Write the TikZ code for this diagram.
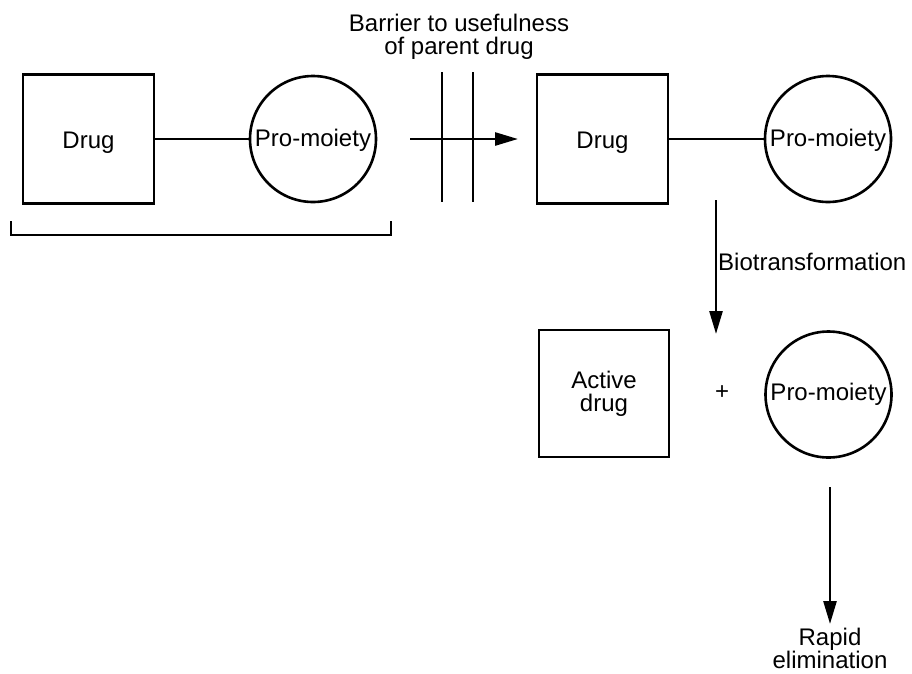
\documentclass[tikz,border=0pt]{standalone}
\usepackage{fontspec}
\setmainfont{Liberation Sans}
\usetikzlibrary{arrows.meta}
\tikzset{
  ln/.style={line width=2.6pt},
  arr/.style={line width=2.6pt, -{Triangle[length=23pt,width=13pt]}},
  sq/.style={draw, line width=2.6pt, rectangle, inner sep=0pt, align=center},
  ci/.style={draw, line width=2.6pt, circle, minimum size=126pt, inner sep=0pt},
  lbl/.style={inner sep=0pt, align=center},
  tb/.style={text height=#1, text depth=0pt},
}
\begin{document}
\begin{tikzpicture}[x=1pt,y=-1pt, font=\fontsize{24}{23}\selectfont]
\useasboundingbox (0,0) rectangle (912,673);
% title
\node[lbl, anchor=north] (title) at (459,14) {Barrier to usefulness\\of parent drug};
% left prodrug
\node[sq, minimum width=131pt, minimum height=129pt, tb=19pt] (d1) at (88.5,139) {Drug};
\node[ci, tb=15pt] (p1) at (313,139) {Pro-moiety};
\draw[ln] (d1.east) -- (p1.west);
% bracket
\coordinate (bk1) at (11,221);
\coordinate (bk2) at (11,235);
\coordinate (bk3) at (391,235);
\coordinate (bk4) at (391,221);
\draw[ln] (bk1) -- (bk2) -- (bk3) -- (bk4);
% barrier
\coordinate (b1t) at (442,72);
\coordinate (b1b) at (442,202);
\coordinate (b2t) at (473,72);
\coordinate (b2b) at (473,202);
\draw[ln] (b1t) -- (b1b);
\draw[ln] (b2t) -- (b2b);
\coordinate (as) at (410,139);
\coordinate (ae) at (518,139);
\draw[arr] (as) -- (ae);
% right prodrug
\node[sq, minimum width=131pt, minimum height=129pt, tb=19pt] (d2) at (602.5,139) {Drug};
\node[ci, tb=15pt] (p2) at (828,139) {Pro-moiety};
\draw[ln] (d2.east) -- (p2.west);
% biotransformation
\coordinate (bs) at (716,200);
\coordinate (be) at (716,334);
\draw[arr] (bs) -- (be);
\node[lbl, anchor=base west] (bio) at (718,270) {Biotransformation};
% products
\node[sq, minimum width=130pt, minimum height=127pt] (ad) at (604,393.5) {Active\\drug};
\node[lbl] (plus) at (722,393) {+};
\node[ci, tb=11pt] (p3) at (828.5,394.5) {Pro-moiety};
% elimination
\coordinate (es) at (830,487);
\coordinate (ee) at (830,624);
\draw[arr] (es) -- (ee);
\node[lbl, anchor=north] (rapid) at (830,628) {Rapid\\elimination};
\end{tikzpicture}
\end{document}
